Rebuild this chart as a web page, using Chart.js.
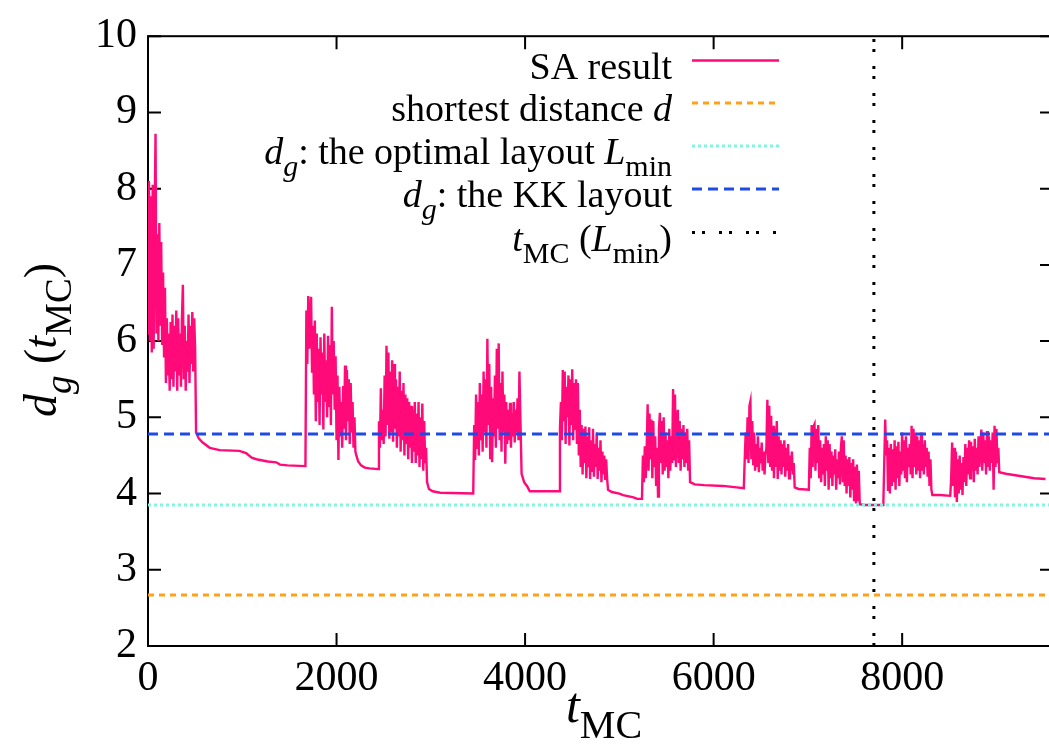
<!DOCTYPE html>
<html>
<head>
<meta charset="utf-8">
<script src="https://cdn.jsdelivr.net/npm/chart.js@4.4.1/dist/chart.umd.min.js"></script>
<style>
  html, body { margin: 0; padding: 0; background: #fff; overflow: hidden; }
  #wrap { position: relative; width: 1060px; height: 751px; }
</style>
</head>
<body>
<div id="wrap"><canvas id="c"></canvas></div>
<script>
// Axis ranges and tick labels
const xTicks = [0, 2000, 4000, 6000, 8000];
const yTicks = [2, 3, 4, 5, 6, 7, 8, 9, 10];
const xMin = 0, xMax = 9600, yMin = 2, yMax = 10;

// Reference levels
const shortestD = 2.67;     // shortest distance d
const optimalDg = 3.85;     // d_g of the optimal layout L_min
const kkDg = 4.78;          // d_g of the KK layout
const tAtLmin = 7700;       // t_MC at which L_min is reached

// SA result: noisy bursts sampled every 10 MC steps, starting at these times
const burstStep = 10;
const burstStarts = [0, 1680, 2450, 3460, 4370, 5250, 6330, 7020, 7810, 8520];

const burst1 = [6.10,8.10,6.00,7.90,5.85,8.05,5.90,7.60,8.72,6.10,
  7.40,6.00,7.55,6.20,7.30,5.95,6.90,5.80,6.70,5.45,
  6.30,5.55,6.10,5.35,6.25,5.50,6.35,5.40,6.20,5.60,
  6.40,5.35,6.30,5.55,6.10,5.40,6.30,6.74,5.50,6.20,
  5.35,6.00,5.60,6.35,5.45,6.20,5.70,6.38,5.60,6.30,
  5.90];
const burst2 = [6.40,5.70,6.59,5.90,6.30,6.58,5.60,6.20,5.30,6.27,
  4.95,6.10,5.20,5.90,4.90,6.05,5.30,5.85,4.84,6.10,
  5.20,5.75,5.00,6.07,5.15,5.95,4.90,6.45,5.30,6.00,
  5.10,5.80,4.70,5.55,4.44,5.40,4.75,5.20,4.60,5.41,
  4.85,5.68,4.70,5.62,4.95,5.50,4.65,5.45,4.80,5.20,
  4.60,5.00,4.55];
const burst3 = [4.95,4.60,5.38,4.70,5.10,4.65,5.55,4.75,5.94,4.90,
  5.85,4.72,5.60,4.80,5.75,4.68,5.70,4.85,5.50,4.60,
  5.40,4.75,5.60,4.55,5.35,4.70,5.45,4.50,5.30,4.65,
  5.25,4.45,5.20,4.60,5.15,4.40,5.10,4.55,5.20,4.40,
  5.05,4.50,5.20,4.35,5.00,4.45,5.18,4.30,4.95,4.40,
  4.60];
const burst4 = [4.90,4.44,5.30,4.60,5.20,4.50,5.45,4.70,5.30,4.55,
  5.60,4.80,5.50,4.60,6.03,4.90,5.70,4.45,5.40,4.41,
  5.25,4.75,5.55,4.60,5.90,4.85,5.97,4.70,5.45,4.55,
  5.60,4.80,5.30,4.39,5.20,4.65,5.10,4.70,5.19,4.60,
  5.05,4.75,5.20,4.67,5.10,4.80,5.25,4.70,5.60,5.00];
const burst5 = [4.85,5.20,4.70,5.62,4.95,5.60,4.65,5.40,5.00,5.55,
  4.63,5.50,4.90,5.63,4.70,5.45,4.85,5.50,4.65,5.45,
  4.50,5.10,4.35,4.90,4.25,4.85,4.40,4.88,4.20,4.75,
  4.35,4.87,4.19,4.70,4.30,4.85,4.22,4.65,4.35,4.80,
  4.19,4.60,4.30,4.70,4.15,4.55,4.25,4.50,4.18,4.45,
  4.20];
const burst6 = [4.50,4.15,4.62,4.20,4.60,5.17,4.30,5.05,4.45,4.97,
  4.20,4.95,4.35,4.75,4.10,4.60,3.96,4.85,5.06,4.40,
  4.95,4.25,5.00,4.30,4.80,4.35,4.70,4.20,4.85,4.30,
  4.75,4.40,5.37,4.45,5.30,4.35,4.90,5.10,4.40,4.95,
  4.30,4.85,4.45,4.90,4.35,4.80,4.40,4.85,4.30,4.70];
const burst7 = [4.45,4.80,4.45,5.00,4.40,5.15,5.21,4.45,4.95,4.37,
  4.80,4.30,4.65,4.35,4.75,4.28,4.60,4.40,4.67,4.30,
  4.55,4.25,4.50,4.60,5.23,4.40,5.15,4.35,5.02,4.30,
  4.89,4.20,4.85,4.35,4.95,4.19,4.75,4.30,4.70,4.25,
  4.65,4.35,4.70,4.22,4.60,4.30,4.65,4.20,4.50,4.30,
  4.55,4.25,4.40];
const burst8 = [4.60,4.20,4.90,4.35,4.88,4.91,4.30,4.85,4.40,4.90,
  4.20,4.70,4.15,4.60,4.25,4.65,4.10,4.75,4.30,4.70,
  4.05,4.65,4.20,4.55,4.10,4.50,4.25,4.58,4.05,4.45,
  4.20,4.55,4.12,4.60,4.75,4.15,4.70,4.10,4.50,4.00,
  4.45,4.10,4.48,3.95,4.40,4.05,4.45,3.90,4.35,3.87,
  4.38,3.90,4.30];
const burst9 = [4.40,4.97,4.50,4.70,4.05,4.60,4.00,4.65,4.10,4.58,
  4.15,4.70,4.05,4.62,4.20,4.68,4.10,4.55,4.25,4.80,
  4.30,4.70,4.20,4.75,4.15,4.60,4.35,4.65,4.25,4.89,
  4.20,4.85,4.35,4.80,4.25,4.75,4.30,4.70,4.20,4.80,
  4.30,4.65,4.25,4.70,4.35,4.60,4.22,4.55,4.10,4.45,
  4.05];
const burst10 = [4.20,4.67,4.10,4.60,3.95,4.55,3.89,4.45,4.00,4.50,
  4.05,4.40,3.98,4.48,4.15,4.65,4.10,4.60,4.25,4.70,
  4.20,4.68,4.30,4.62,4.15,4.72,4.30,4.60,4.25,4.75,
  4.35,4.65,4.84,4.30,4.80,4.40,4.70,4.25,4.82,4.35,
  4.75,4.30,4.70,4.40,4.80,4.05,4.89,4.35,4.85,4.40,
  4.60];

// SA result: quiet relaxation stretches after each burst, as [t, value]
const relax1 = [[510,4.80],[540,4.72],[580,4.67],[655,4.60],[760,4.57],[970,4.56],[1040,4.53],[1100,4.47],[1150,4.45],[1270,4.42],[1360,4.41],[1400,4.38],[1480,4.37],[1670,4.36]];
const relax2 = [[2210,4.50],[2230,4.42],[2260,4.37],[2300,4.34],[2350,4.33],[2440,4.32]];
const relax3 = [[2960,4.15],[2980,4.06],[3020,4.03],[3100,4.01],[3450,4.00]];
const relax4 = [[3963,4.26],[3990,4.15],[4020,4.10],[4050,4.03],[4360,4.03]];
const relax5 = [[4880,4.05],[4920,4.02],[5000,4.00],[5040,3.98],[5150,3.95],[5190,3.93],[5240,3.93]];
const relax6 = [[5750,4.15],[5800,4.12],[5900,4.11],[6100,4.10],[6320,4.07]];
const relax7 = [[6860,4.08],[6900,4.06],[7010,4.05]];
const relax8 = [[7550,3.86],[7600,3.85],[7800,3.85]];
const relax9 = [[8320,3.98],[8400,3.98],[8510,3.97]];
const relax10 = [[9030,4.28],[9100,4.26],[9200,4.24],[9300,4.22],[9400,4.20],[9520,4.19]];

const bursts = [burst1, burst2, burst3, burst4, burst5, burst6, burst7, burst8, burst9, burst10];
const relaxations = [relax1, relax2, relax3, relax4, relax5, relax6, relax7, relax8, relax9, relax10];

const saPoints = [];
bursts.forEach((vals, i) => {
  vals.forEach((y, k) => saPoints.push({ x: burstStarts[i] + k * burstStep, y }));
  relaxations[i].forEach(([x, y]) => saPoints.push({ x, y }));
});

const SERIF = '"Liberation Serif", "Times New Roman", serif';

// Legend entries, drawn as rich text with italics and subscripts
const legendRows = [
  [{ t: 'SA result' }],
  [{ t: 'shortest distance ' }, { t: 'd', it: 1 }],
  [{ t: 'd', it: 1 }, { t: 'g', it: 1, sub: 1 }, { t: ': the optimal layout ' }, { t: 'L', it: 1 }, { t: 'min', sub: 1 }],
  [{ t: 'd', it: 1 }, { t: 'g', it: 1, sub: 1 }, { t: ': the KK layout' }],
  [{ t: 't', it: 1 }, { t: 'MC', sub: 1 }, { t: ' (' }, { t: 'L', it: 1 }, { t: 'min', sub: 1 }, { t: ')' }]
];
const xTitle = [{ t: 't', it: 1 }, { t: 'MC', sub: 1 }];
const yTitle = [{ t: 'd', it: 1 }, { t: 'g', it: 1, sub: 1 }, { t: ' (' }, { t: 't', it: 1 }, { t: 'MC', sub: 1 }, { t: ')' }];

function partFont(p, size) {
  const s = p.sub ? Math.round(size * 0.8) : size;
  return (p.it ? 'italic ' : '') + s + 'px ' + SERIF;
}
function drawRich(ctx, parts, x, y, align, size) {
  let w = 0;
  parts.forEach(p => { ctx.font = partFont(p, size); p.w = ctx.measureText(p.t).width; w += p.w; });
  let cx = align === 'right' ? x - w : align === 'center' ? x - w / 2 : x;
  ctx.textAlign = 'left';
  ctx.textBaseline = 'alphabetic';
  parts.forEach(p => {
    ctx.font = partFont(p, size);
    ctx.fillText(p.t, cx, y + (p.sub ? size * 0.32 : 0));
    cx += p.w;
  });
}

// Frame with inward ticks on all four sides
const framePlugin = {
  id: 'frame',
  beforeDatasetsDraw(chart) {
    const { ctx, chartArea: a, scales } = chart;
    ctx.save();
    ctx.strokeStyle = '#000';
    ctx.lineWidth = 2;
    ctx.setLineDash([]);
    ctx.strokeRect(a.left, a.top, a.right - a.left, a.bottom - a.top);
    const len = 13;
    ctx.beginPath();
    xTicks.forEach(v => {
      const px = scales.x.getPixelForValue(v);
      ctx.moveTo(px, a.bottom); ctx.lineTo(px, a.bottom - len);
      ctx.moveTo(px, a.top); ctx.lineTo(px, a.top + len);
    });
    yTicks.forEach(v => {
      const py = scales.y.getPixelForValue(v);
      ctx.moveTo(a.left, py); ctx.lineTo(a.left + len, py);
      ctx.moveTo(a.right, py); ctx.lineTo(a.right - len, py);
    });
    ctx.stroke();
    ctx.restore();
  }
};

// Key in the upper right and the axis titles
const keyPlugin = {
  id: 'key',
  afterDraw(chart) {
    const { ctx } = chart;
    ctx.save();
    ctx.fillStyle = '#000';
    const rowY = [60.5, 103, 146, 189, 232.5];
    legendRows.forEach((parts, i) => {
      const ds = chart.data.datasets[i];
      drawRich(ctx, parts, 672, rowY[i] + 18, 'right', 38);
      ctx.beginPath();
      ctx.strokeStyle = ds.borderColor;
      ctx.lineWidth = ds.borderWidth;
      ctx.setLineDash(ds.borderDash || []);
      ctx.moveTo(692, rowY[i]);
      ctx.lineTo(779, rowY[i]);
      ctx.stroke();
    });
    ctx.setLineDash([]);
    drawRich(ctx, xTitle, 604, 722, 'center', 50);
    ctx.translate(56, 340);
    ctx.rotate(-Math.PI / 2);
    drawRich(ctx, yTitle, 0, 0, 'center', 46);
    ctx.restore();
  }
};

new Chart(document.getElementById('c'), {
  type: 'line',
  data: {
    datasets: [
      { label: 'SA result', data: saPoints, borderColor: '#ff0a78', borderWidth: 2.4,
        pointRadius: 0, tension: 0, order: 1 },
      { label: 'shortest distance d', data: [{ x: xMin, y: shortestD }, { x: xMax, y: shortestD }],
        borderColor: '#ffa218', borderWidth: 3, borderDash: [6, 5], pointRadius: 0, order: 0 },
      { label: 'dg: the optimal layout Lmin', data: [{ x: xMin, y: optimalDg }, { x: xMax, y: optimalDg }],
        borderColor: '#7ff5e2', borderWidth: 3, borderDash: [3, 3], pointRadius: 0, order: 0 },
      { label: 'dg: the KK layout', data: [{ x: xMin, y: kkDg }, { x: xMax, y: kkDg }],
        borderColor: '#1e4ae8', borderWidth: 3, borderDash: [10, 6], pointRadius: 0, order: 0 },
      { label: 'tMC(Lmin)', data: [{ x: tAtLmin, y: yMin }, { x: tAtLmin, y: yMax }],
        borderColor: '#000000', borderWidth: 3, borderDash: [3, 7, 3, 14], pointRadius: 0, order: 0 }
    ]
  },
  options: {
    animation: false,
    responsive: true,
    maintainAspectRatio: false,
    devicePixelRatio: 1,
    layout: { padding: { top: 29, right: 7, left: 0, bottom: 0 } },
    plugins: { legend: { display: false }, tooltip: { enabled: false } },
    scales: {
      x: {
        type: 'linear', min: xMin, max: xMax,
        afterBuildTicks: s => { s.ticks = xTicks.map(v => ({ value: v })); },
        afterFit: s => { s.height = 105; },
        grid: { display: false, drawTicks: false },
        border: { display: false },
        ticks: { color: '#000', font: { family: SERIF, size: 42 }, padding: 8, maxRotation: 0,
                 callback: v => String(v) }
      },
      y: {
        type: 'linear', min: yMin, max: yMax,
        afterBuildTicks: s => { s.ticks = yTicks.map(v => ({ value: v })); },
        afterFit: s => { s.width = 148; },
        grid: { display: false, drawTicks: false },
        border: { display: false },
        ticks: { color: '#000', font: { family: SERIF, size: 42 }, padding: 11,
                 callback: v => String(v) }
      }
    }
  },
  plugins: [framePlugin, keyPlugin]
});
</script>
</body>
</html>
